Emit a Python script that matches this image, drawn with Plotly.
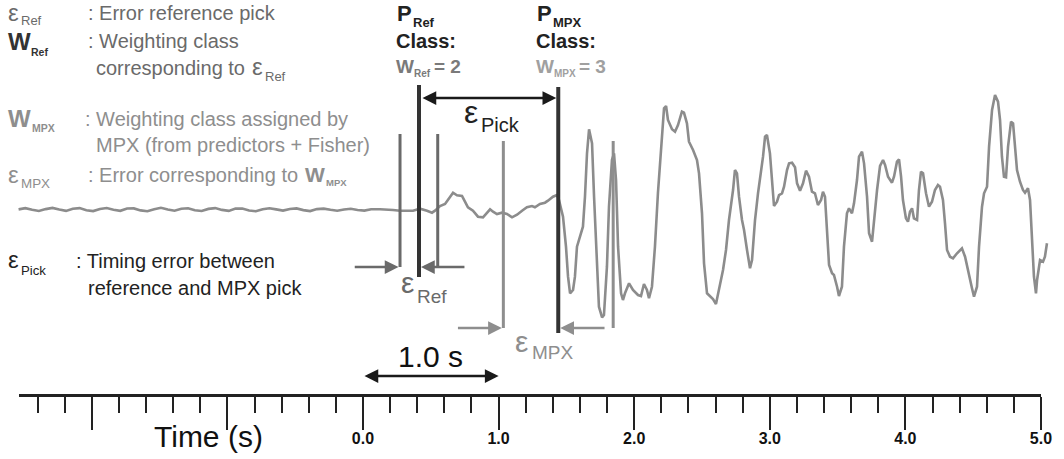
import plotly.graph_objects as go

# ---------------- data ----------------
# pre-event noise (time in s, amplitude in counts)
noise_t = [-2.54, -2.49, -2.44, -2.39, -2.34, -2.29, -2.24, -2.19, -2.14, -2.09,
           -2.04, -1.99, -1.94, -1.89, -1.84, -1.79, -1.74, -1.69, -1.64, -1.59,
           -1.54, -1.49, -1.44, -1.39, -1.34, -1.29, -1.24, -1.19, -1.14, -1.09,
           -1.04, -0.99, -0.94, -0.89, -0.84, -0.79, -0.74, -0.69, -0.64, -0.59,
           -0.54, -0.49, -0.44, -0.39, -0.34, -0.29, -0.24, -0.19, -0.14, -0.09,
           -0.04, 0.01, 0.06, 0.11]
noise_amp = [0.6, 1.8, 0.2, -1.0, 0.9, 2.1, 0.4, -0.9, 1.2, 1.9,
             -0.2, -1.1, 1.0, 2.0, 0.3, -0.8, 1.5, 1.6, -0.4, -1.2,
             0.8, 2.2, 0.5, -0.7, 1.3, 1.7, -0.3, -1.0, 1.1, 1.9,
             0.1, -0.9, 1.4, 1.5, -0.5, -1.3, 0.7, 1.8, 0.6, -0.6,
             1.0, 1.6, -0.1, -1.1, 0.9, 1.4, 0.2, -0.8, 0.5, 1.2,
             0.0, -0.6, 0.8, 0.3]

# seismogram after the noise window
signal_t = [0.125, 0.221, 0.273, 0.369, 0.420, 0.472, 0.509, 0.531, 0.568, 0.605,
            0.642, 0.664, 0.693, 0.730, 0.752, 0.774, 0.811, 0.848, 0.885, 0.914,
            0.937, 0.959, 0.988, 1.025, 1.062, 1.099, 1.136, 1.173, 1.209, 1.246,
            1.268, 1.305, 1.342, 1.364, 1.401, 1.431, 1.445, 1.475, 1.497, 1.512,
            1.527, 1.549, 1.563, 1.578, 1.600, 1.622, 1.637, 1.652, 1.667, 1.689,
            1.704, 1.726, 1.740, 1.763, 1.777, 1.799, 1.814, 1.836, 1.851, 1.866,
            1.881, 1.903, 1.917, 1.932, 1.962, 1.991, 2.028, 2.050, 2.072, 2.094,
            2.109, 2.131, 2.153, 2.175, 2.205, 2.220, 2.235, 2.249, 2.279, 2.301,
            2.323, 2.352, 2.367, 2.389, 2.404, 2.434, 2.463, 2.478, 2.500, 2.515,
            2.537, 2.559, 2.581, 2.603, 2.618, 2.640, 2.655, 2.677, 2.699, 2.729,
            2.743, 2.758, 2.773, 2.795, 2.810, 2.832, 2.854, 2.869, 2.891, 2.913,
            2.928, 2.950, 2.965, 2.979, 3.001, 3.024, 3.031, 3.053, 3.068, 3.090,
            3.105, 3.127, 3.142, 3.164, 3.186, 3.201, 3.223, 3.245, 3.267, 3.289,
            3.311, 3.333, 3.355, 3.378, 3.392, 3.407, 3.422, 3.437, 3.459, 3.473,
            3.496, 3.510, 3.532, 3.547, 3.569, 3.584, 3.606, 3.621, 3.643, 3.658,
            3.680, 3.695, 3.717, 3.732, 3.754, 3.768, 3.791, 3.813, 3.835, 3.850,
            3.872, 3.901, 3.916, 3.938, 3.953, 3.968, 3.982, 4.004, 4.019, 4.034,
            4.049, 4.063, 4.086, 4.100, 4.115, 4.130, 4.152, 4.174, 4.196, 4.218,
            4.240, 4.255, 4.277, 4.292, 4.307, 4.329, 4.351, 4.381, 4.403, 4.417,
            4.440, 4.462, 4.491, 4.506, 4.528, 4.543, 4.565, 4.580, 4.602, 4.617,
            4.639, 4.661, 4.683, 4.698, 4.712, 4.727, 4.742, 4.757, 4.779, 4.794,
            4.808, 4.823, 4.845, 4.867, 4.882, 4.904, 4.919, 4.934, 4.948, 4.963,
            4.971, 4.993, 5.015, 5.029, 5.044]
signal_amp = [0.7, 0.0, -0.7, -0.7, 1.3, -0.7, -2.7, -0.7, 4.0, 6.0,
              12.7, 17.3, 14.7, 14.0, 8.3, 2.7, -0.7, -6.7, -7.3, -3.3,
              0.7, -1.7, -4.0, -2.7, -4.0, -7.3, -4.7, -0.7, 2.7, 4.0,
              2.7, 6.0, 7.3, 9.3, 13.3, 15.0, 10.0, -6.7, -36.7, -66.7,
              -83.3, -80.0, -66.7, -36.7, -26.7, -16.7, 13.3, 56.7, 80.7, 66.7,
              13.3, -56.7, -96.7, -107.3, -105.0, -56.7, 3.3, 50.0, 56.7, 30.0,
              -36.7, -83.3, -90.0, -83.3, -73.3, -80.0, -85.0, -86.0, -74.0, -80.0,
              -88.3, -76.7, -36.7, 16.7, 80.0, 101.7, 104.0, 90.0, 80.7, 78.3,
              85.0, 98.3, 97.3, 86.7, 68.3, 60.0, 50.0, 36.7, -3.3, -53.3,
              -83.3, -86.7, -89.0, -94.0, -83.3, -70.0, -60.0, -40.0, -10.0, 20.0,
              40.0, 36.7, 13.3, -10.0, -20.0, -40.0, -58.3, -50.0, -10.0, 16.7,
              30.0, 53.3, 73.3, 75.0, 56.7, 20.0, 4.0, 8.3, 15.0, 16.7,
              23.3, 40.0, 46.7, 47.3, 42.7, 26.7, 19.3, 26.7, 39.3, 33.3,
              18.3, 16.7, 5.0, 10.0, 18.3, 13.3, -16.7, -55.0, -63.3, -65.0,
              -76.7, -86.0, -76.7, -36.7, -3.3, 1.7, -3.3, 6.7, 30.0, 53.3,
              58.3, 46.7, 13.3, -23.3, -31.7, -10.0, 20.0, 44.0, 50.0, 45.0,
              33.3, 27.3, 33.3, 48.3, 50.7, 33.3, 10.0, -8.3, -11.7, -1.7,
              1.7, -8.3, -10.0, 20.0, 38.3, 36.7, 16.7, 3.3, 8.3, 20.0,
              25.0, 23.3, 10.0, -13.3, -40.0, -46.7, -48.3, -43.3, -40.0, -38.3,
              -46.7, -61.7, -78.3, -86.7, -76.7, -36.7, 3.3, 16.7, 23.3, 63.3,
              100.0, 115.0, 108.3, 90.0, 53.3, 33.3, 32.7, 63.3, 88.3, 86.7,
              63.3, 40.0, 28.3, 20.0, 17.3, 21.7, 10.0, -30.0, -66.7, -83.3,
              -70.0, -50.0, -51.7, -46.7, -33.3]

# picks (s) and the vertical extent of their marker lines (counts)
pick_t = [0.413, 1.440]          # P_Ref, P_MPX
pick_top = [125, 123]
pick_bottom = [-67, -123]
eps_ref_t = [0.273, 0.551]       # error window of the reference pick
eps_ref_top, eps_ref_bottom = 76, -57
eps_mpx_t = [1.035, 1.845]       # error window of the MPX pick
eps_mpx_top, eps_mpx_bottom = 69, -118
eps_ref_arrow_tails = [-0.083, 0.774]
eps_mpx_arrow_tails = [0.678, 1.807]
eps_pick_level = 112
scale_bar = [0.0, 1.0]
scale_bar_level = -166

# time axis
major_ticks = [-2, -1, 0, 1, 2, 3, 4, 5]
major_labels = ['', '', '0.0', '1.0', '2.0', '3.0', '4.0', '5.0']
axis_range = [-2.54, 5.0]

# ---------------- figure ----------------
W, H, B = 1064, 459, 65
PH = H - B
PX_PER_S = 135.6
T0_PX = 363
FONT = 'Liberation Sans, Arial, Helvetica, sans-serif'

C_DARK = '#222222'
C_THICK = '#333333'
C_REF = '#6a6a6a'
C_MPX = '#8e8e8e'
C_WAVE = '#8c8c8c'

fig = go.Figure()
fig.add_trace(go.Scatter(x=noise_t + signal_t, y=noise_amp + signal_amp,
                         mode='lines', line=dict(color=C_WAVE, width=2.6),
                         hoverinfo='skip', showlegend=False))
# empty trace that makes the time-axis subplot exist
fig.add_trace(go.Scatter(x=axis_range, y=[None, None], xaxis='x2', yaxis='y',
                         mode='lines', hoverinfo='skip', showlegend=False))

shapes = []
for t, top, bot in zip(pick_t, pick_top, pick_bottom):
    shapes.append(dict(type='line', xref='x', yref='y', x0=t, x1=t, y0=bot, y1=top,
                       line=dict(color=C_THICK, width=4)))
for t in eps_ref_t:
    shapes.append(dict(type='line', xref='x', yref='y', x0=t, x1=t,
                       y0=eps_ref_bottom, y1=eps_ref_top, line=dict(color=C_REF, width=3)))
for t in eps_mpx_t:
    shapes.append(dict(type='line', xref='x', yref='y', x0=t, x1=t,
                       y0=eps_mpx_bottom, y1=eps_mpx_top, line=dict(color=C_MPX, width=3)))

ann = []


def arrow(tail, head, level, color, standoff, both=False, width=2.5, size=1.1):
    ann.append(dict(x=head, y=level, ax=tail, ay=level, xref='x', yref='y',
                    axref='x', ayref='y', text='', showarrow=True,
                    arrowhead=2, startarrowhead=2, arrowsize=size, startarrowsize=size,
                    arrowwidth=width, arrowcolor=color,
                    arrowside='end+start' if both else 'end',
                    standoff=standoff, startstandoff=standoff))


arrow(eps_ref_arrow_tails[0], eps_ref_t[0], eps_ref_bottom, C_REF, 1.5)
arrow(eps_ref_arrow_tails[1], pick_t[0], eps_ref_bottom, C_REF, 2)
arrow(eps_mpx_arrow_tails[0], eps_mpx_t[0], eps_mpx_bottom, C_MPX, 1.5)
arrow(eps_mpx_arrow_tails[1], pick_t[1], eps_mpx_bottom, C_MPX, 2)
arrow(pick_t[0], pick_t[1], eps_pick_level, '#1a1a1a', 2, both=True)
arrow(scale_bar[0], scale_bar[1], scale_bar_level, '#1a1a1a', 0, both=True)


def txt(px, base, text, size, color, anchor='left', bold=False):
    """place a text so that its baseline sits at pixel row `base`"""
    mid = base - 0.3465 * size
    ann.append(dict(x=px / W, y=(PH - mid) / PH, xref='paper', yref='paper',
                    text=text, showarrow=False, xanchor=anchor, yanchor='middle',
                    font=dict(size=size, color=color, family=FONT,
                              weight='bold' if bold else 'normal')))


EPS = 'ε'

# legend on the left
txt(6, 21, EPS, 24, C_REF)
txt(19, 25, 'Ref', 13, C_REF)
txt(86, 20, ': Error reference pick', 20, C_REF)

txt(6, 50, 'W', 24, C_THICK, bold=True)
txt(29, 56, 'Ref', 10.5, C_THICK, bold=True)
txt(86, 48, ': Weighting class', 20, C_REF)
txt(94, 75, 'corresponding to', 20, C_REF)
txt(250, 75, EPS, 24, C_REF)
txt(263, 81, 'Ref', 13, C_REF)

txt(6, 127, 'W', 24, C_MPX, bold=True)
txt(30, 132, 'MPX', 10.5, C_MPX, bold=True)
txt(83, 126, ': Weighting class assigned by', 20, C_MPX)
txt(94, 152, 'MPX (from predictors + Fisher)', 20, C_MPX)

txt(6, 183, EPS, 24, C_MPX)
txt(19, 188, 'MPX', 13.4, C_MPX)
txt(86, 182, ': Error corresponding to', 20, C_MPX)
txt(303, 182, 'W', 21, C_MPX, bold=True)
txt(324, 186, 'MPX', 9.5, C_MPX, bold=True)

txt(6, 268, EPS, 24, C_DARK)
txt(19, 275, 'Pick', 13.2, C_DARK)
txt(74, 268, ': Timing error between', 20, C_DARK)
txt(86, 295, 'reference and MPX pick', 20, C_DARK)

# pick headers
for x0, sub, wval, wcol, wx in [(394, 'Ref', '= 2', '#7a7a7a', 38),
                                (534, 'MPX', '= 3', '#a0a0a0', 43)]:
    txt(x0 + 1, 21, 'P', 22, C_DARK, bold=True)
    txt(x0 + 17, 27, sub, 13, C_DARK, bold=True)
    txt(x0, 48, 'Class:', 20, C_DARK, bold=True)
    txt(x0, 73, 'W', 19, wcol, bold=True)
    txt(x0 + 18, 77, sub, 10, wcol, bold=True)
    txt(x0 + wx, 73, wval, 19, wcol, bold=True)

# error labels
txt(462, 123, EPS, 32, C_DARK)
txt(479, 132, 'Pick', 20, C_DARK)
txt(399, 293, EPS, 30, C_REF)
txt(415, 303, 'Ref', 19, C_REF)
txt(513, 352, EPS, 30, C_MPX)
txt(530, 359, 'MPX', 19, C_MPX)
txt(430, 367, '1.0 s', 30, '#111111', anchor='center')
txt(208, 447, 'Time (s)', 30, '#111111', anchor='center')

d0 = (T0_PX + axis_range[0] * PX_PER_S) / W
d1 = (T0_PX + axis_range[1] * PX_PER_S) / W

fig.update_layout(
    width=W, height=H,
    margin=dict(l=0, r=0, t=0, b=B, pad=0, autoexpand=False),
    paper_bgcolor='white', plot_bgcolor='rgba(0,0,0,0)',
    showlegend=False,
    font=dict(family=FONT),
    xaxis=dict(domain=[0, 1], range=[-T0_PX / PX_PER_S, (W - T0_PX) / PX_PER_S],
               visible=False, anchor='y', fixedrange=True, automargin=False),
    xaxis2=dict(domain=[d0, d1], range=axis_range, anchor='y', automargin=False,
                showline=True, linecolor=C_DARK, linewidth=2.5,
                ticks='outside', tickvals=major_ticks, ticktext=major_labels,
                ticklen=33, tickwidth=2, tickcolor=C_DARK,
                tickfont=dict(size=16, color='#111111', family=FONT, weight='bold'),
                ticklabelstandoff=-5,
                minor=dict(dtick=0.2, tick0=0, ticks='outside', ticklen=16,
                           tickwidth=2, tickcolor=C_DARK, showgrid=False),
                showgrid=False, zeroline=False, fixedrange=True),
    yaxis=dict(domain=[0, 1], range=[-(PH - 210), 210], visible=False,
               fixedrange=True, automargin=False),
    shapes=shapes,
    annotations=ann,
)

fig.write_html('out.html')
